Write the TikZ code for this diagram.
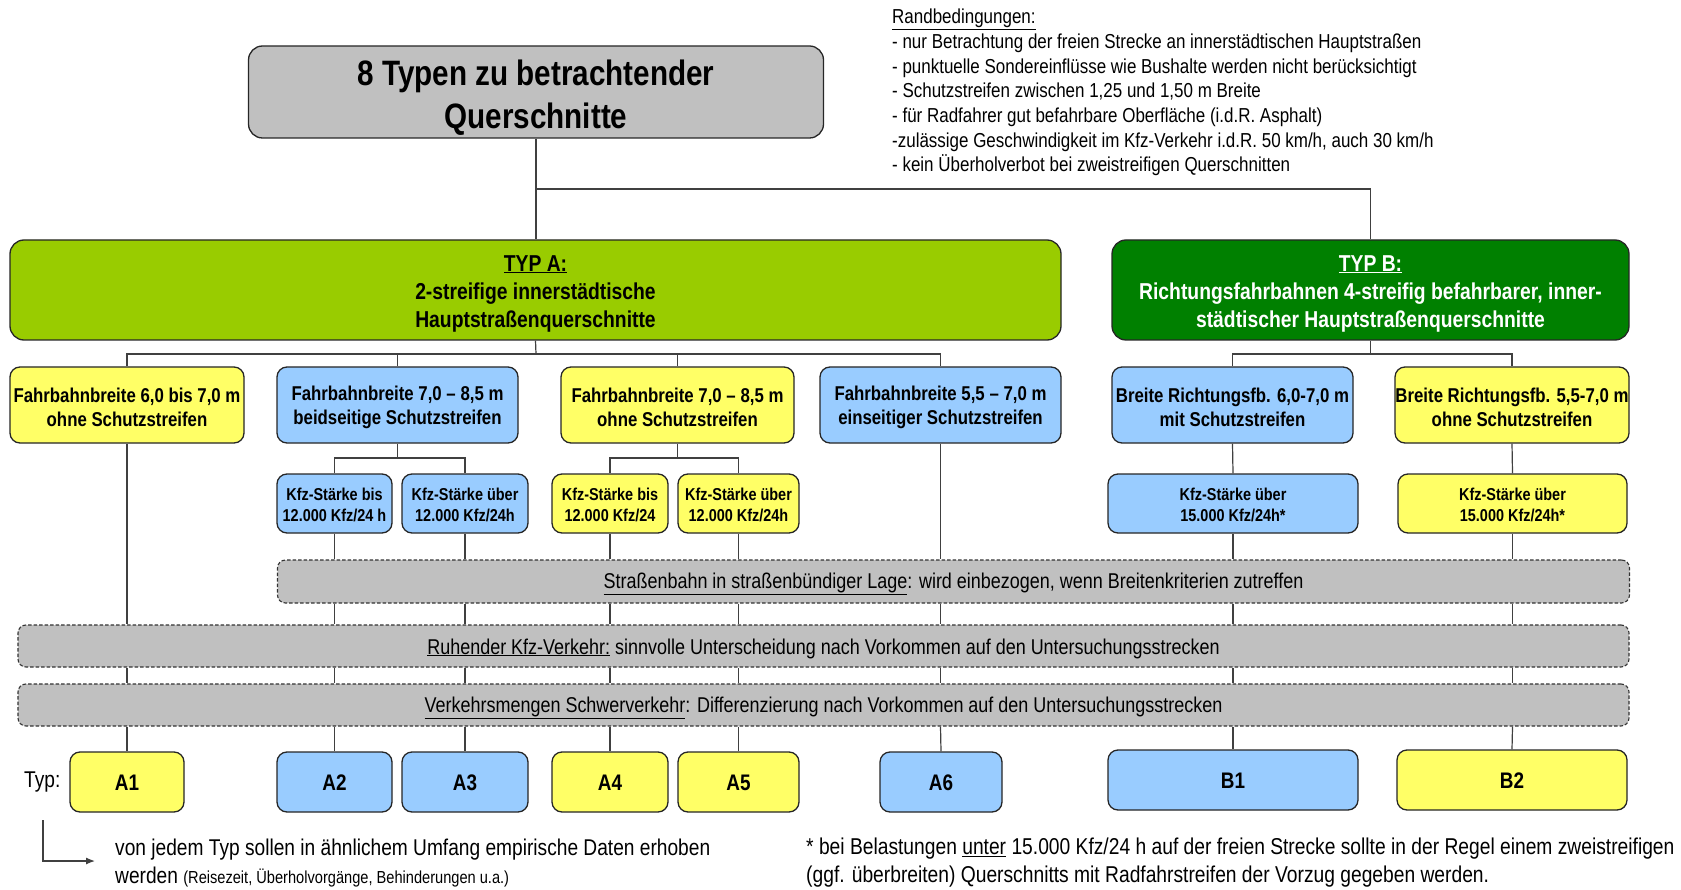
\documentclass[tikz,border=0pt]{standalone}
\usepackage{fontspec}
\setmainfont{Liberation Sans}[FakeStretch=0.84]
\usetikzlibrary{arrows.meta}
\definecolor{cyel}{HTML}{FFFF66}
\definecolor{cblu}{HTML}{99CCFF}
\definecolor{cgrn}{HTML}{99CC00}
\definecolor{cdgrn}{HTML}{008000}
\definecolor{cgry}{HTML}{C0C0C0}
\newcommand\myfs[2]{\fontsize{#1}{#2}\selectfont}
\newcommand\myul[1]{\underline{#1}}
\begin{document}
\begin{tikzpicture}[x=1pt,y=-1pt,
  box/.style={draw=black!85, line width=1.3pt, rounded corners=10pt, inner sep=0pt},
  bigbox/.style={box, rounded corners=14pt},
  yel/.style={fill=cyel}, blu/.style={fill=cblu},
  grp/.style={box, minimum height=76pt},
  kfz/.style={box, minimum height=59pt},
  typ/.style={box, minimum height=60pt},
  bar/.style={draw=black!80, fill=cgry, rounded corners=8pt, line width=1.1pt, dash pattern=on 3.5pt off 2pt, inner sep=0pt},
  tx/.style={inner sep=0pt, align=center},
  titlef/.style={tx, font=\bfseries\myfs{35.3}{43}},
  typf/.style={tx, font=\bfseries\myfs{23}{28}},
  grpf/.style={tx, font=\bfseries\myfs{20}{24.7}},
  kfzf/.style={tx, font=\bfseries\myfs{17.2}{21}},
  typtf/.style={tx, font=\bfseries\myfs{22.5}{26}},
  barf/.style={tx, font=\myfs{21.4}{26}},
  conn/.style={draw=black!75, line width=1.2pt},
  txt/.style={inner sep=0pt, align=left}]
\useasboundingbox (0,0) rectangle (1681,890);

% title and main types
\node[bigbox, fill=cgry, minimum width=575pt, minimum height=92pt] (title) at (536,92) {};
\node[titlef] (titlet) at ([yshift=-5.5pt]title.center) {8 Typen zu betrachtender\\Querschnitte};
\node[bigbox, fill=cgrn, minimum width=1051pt, minimum height=100pt] (typA) at (535.5,290) {};
\node[typf] (typAt) at ([yshift=-3.5pt]typA.center) {\myul{TYP A:}\\2-streifige innerstädtische\\Hauptstraßenquerschnitte};
\node[bigbox, fill=cdgrn, minimum width=517pt, minimum height=100pt] (typB) at (1370.5,290) {};
\node[typf, text=white] (typBt) at ([yshift=-3.5pt]typB.center) {\myul{TYP B:}\\Richtungsfahrbahnen 4-streifig befahrbarer, inner-\\städtischer Hauptstraßenquerschnitte};

% Randbedingungen
\node[txt, anchor=west, font=\myfs{20.2}{24.7}] (rand) at (892,92.5) {\myul{Randbedingungen:}\\
- nur Betrachtung der freien Strecke an innerstädtischen Hauptstraßen\\
- punktuelle Sondereinflüsse wie Bushalte werden nicht berücksichtigt\\
- Schutzstreifen zwischen 1,25 und 1,50 m Breite\\
- für Radfahrer gut befahrbare Oberfläche (i.d.R. Asphalt)\\
-zulässige Geschwindigkeit im Kfz-Verkehr i.d.R. 50 km/h, auch 30 km/h\\
- kein Überholverbot bei zweistreifigen Querschnitten};

% row 2
\node[grp, yel, minimum width=234pt] (g1) at (127,405) {};
\node[grpf] (g1t) at ([yshift=-2.5pt]g1.center) {Fahrbahnbreite 6,0 bis 7,0 m\\ohne Schutzstreifen};
\node[grp, blu, minimum width=241pt] (g2) at (397.5,405) {};
\node[grpf] (g2t) at ([yshift=-2.5pt]g2.center) {Fahrbahnbreite 7,0 – 8,5 m\\beidseitige Schutzstreifen};
\node[grp, yel, minimum width=233pt] (g3) at (677.5,405) {};
\node[grpf] (g3t) at ([yshift=-2.5pt]g3.center) {Fahrbahnbreite 7,0 – 8,5 m\\ohne Schutzstreifen};
\node[grp, blu, minimum width=241pt] (g4) at (940.5,405) {};
\node[grpf] (g4t) at ([yshift=-2.5pt]g4.center) {Fahrbahnbreite 5,5 – 7,0 m\\einseitiger Schutzstreifen};
\node[grp, blu, minimum width=241pt] (g5) at (1232.5,405) {};
\node[grpf] (g5t) at ([yshift=-2.5pt]g5.center) {Breite Richtungsfb. 6,0-7,0 m\\mit Schutzstreifen};
\node[grp, yel, minimum width=234pt] (g6) at (1512,405) {};
\node[grpf] (g6t) at ([yshift=-2.5pt]g6.center) {Breite Richtungsfb. 5,5-7,0 m\\ohne Schutzstreifen};

% row 3
\node[kfz, blu, minimum width=115pt] (k1) at (334.5,503.5) {};
\node[kfzf] (k1t) at ([yshift=-1.5pt]k1.center) {Kfz-Stärke bis\\12.000 Kfz/24 h};
\node[kfz, blu, minimum width=126pt] (k2) at (465,503.5) {};
\node[kfzf] (k2t) at ([yshift=-1.5pt]k2.center) {Kfz-Stärke über\\12.000 Kfz/24h};
\node[kfz, yel, minimum width=116pt] (k3) at (610,503.5) {};
\node[kfzf] (k3t) at ([yshift=-1.5pt]k3.center) {Kfz-Stärke bis\\12.000 Kfz/24};
\node[kfz, yel, minimum width=121pt] (k4) at (738.5,503.5) {};
\node[kfzf] (k4t) at ([yshift=-1.5pt]k4.center) {Kfz-Stärke über\\12.000 Kfz/24h};
\node[kfz, blu, minimum width=250pt] (k5) at (1233,503.5) {};
\node[kfzf] (k5t) at ([yshift=-1.5pt]k5.center) {Kfz-Stärke über\\15.000 Kfz/24h*};
\node[kfz, yel, minimum width=229pt] (k6) at (1512.5,503.5) {};
\node[kfzf] (k6t) at ([yshift=-1.5pt]k6.center) {Kfz-Stärke über\\15.000 Kfz/24h*};

% bars
\node[bar, minimum width=1352pt, minimum height=43pt] (sb) at (953.5,581.5) {};
\node[barf] (sbt) at ([yshift=-2.5pt]sb.center) {\myul{Straßenbahn in straßenbündiger Lage}: wird einbezogen, wenn Breitenkriterien zutreffen};
\node[bar, minimum width=1611pt, minimum height=42pt] (rk) at (823.5,646) {};
\node[barf] (rkt) at ([yshift=-2.5pt]rk.center) {\myul{Ruhender Kfz-Verkehr:} sinnvolle Unterscheidung nach Vorkommen auf den Untersuchungsstrecken};
\node[bar, minimum width=1611pt, minimum height=42pt] (vs) at (823.5,705) {};
\node[barf] (vst) at ([yshift=-2.5pt]vs.center) {\myul{Verkehrsmengen Schwerverkehr}: Differenzierung nach Vorkommen auf den Untersuchungsstrecken};

% bottom types
\node[typ, yel, minimum width=114pt] (a1) at (127,782) {};
\node[typtf] (a1t) at ([yshift=-1pt]a1.center) {A1};
\node[typ, blu, minimum width=115pt] (a2) at (334.5,782) {};
\node[typtf] (a2t) at ([yshift=-1pt]a2.center) {A2};
\node[typ, blu, minimum width=126pt] (a3) at (465,782) {};
\node[typtf] (a3t) at ([yshift=-1pt]a3.center) {A3};
\node[typ, yel, minimum width=116pt] (a4) at (610,782) {};
\node[typtf] (a4t) at ([yshift=-1pt]a4.center) {A4};
\node[typ, yel, minimum width=121pt] (a5) at (738.5,782) {};
\node[typtf] (a5t) at ([yshift=-1pt]a5.center) {A5};
\node[typ, blu, minimum width=122pt] (a6) at (941,782) {};
\node[typtf] (a6t) at ([yshift=-1pt]a6.center) {A6};
\node[typ, blu, minimum width=250pt] (b1) at (1233,780) {};
\node[typtf] (b1t) at ([yshift=-1pt]b1.center) {B1};
\node[typ, yel, minimum width=230pt] (b2) at (1512,780) {};
\node[typtf] (b2t) at ([yshift=-1pt]b2.center) {B2};

\node[txt, anchor=west, font=\myfs{22.8}{28}] (typlbl) at (24,782) {Typ:};

% notes
\node[txt, anchor=west, font=\myfs{22.8}{28}] (note1) at (115,863) {von jedem Typ sollen in ähnlichem Umfang empirische Daten erhoben\\werden {\myfs{17.4}{28}(Reisezeit, Überholvorgänge, Behinderungen u.a.)}};
\node[txt, anchor=west, font=\myfs{22.9}{28}] (note2) at (806,863) {* bei Belastungen \myul{unter} 15.000 Kfz/24 h auf der freien Strecke sollte in der Regel einem zweistreifigen\\(ggf. überbreiten) Querschnitts mit Radfahrstreifen der Vorzug gegeben werden.};

% connectors
\coordinate (jT) at (536,189);
\coordinate (jA) at (536,354);
\coordinate (jB) at (1370.5,354);
\coordinate (j2) at (397.5,458);
\coordinate (j3) at (677.5,458);
\draw[conn] (title.south) -- (title.south |- typA.north);
\draw[conn] (jT) -| (typB.north);
\draw[conn] (typA.south) -- (jA);
\draw[conn] (g1.north) |- (jA) -| (g4.north);
\draw[conn] (g2.north) -- (g2.north |- jA);
\draw[conn] (g3.north) -- (g3.north |- jA);
\draw[conn] (typB.south) -- (jB);
\draw[conn] (g5.north) |- (jB) -| (g6.north);
\draw[conn] (g2.south) -- (j2);
\draw[conn] (k1.north) |- (j2) -| (k2.north);
\draw[conn] (g3.south) -- (j3);
\draw[conn] (k3.north) |- (j3) -| (k4.north);
\draw[conn] (g5.south) -- (k5.north);
\draw[conn] (g6.south) -- (k6.north);
\draw[conn] (g1.south) -- (g1.south |- rk.north);
\draw[conn] (g1.south |- rk.south) -- (g1.south |- vs.north);
\draw[conn] (g1.south |- vs.south) -- (a1.north);
\foreach \t/\b in {k1/a2,k2/a3,k3/a4,k4/a5,g4/a6,k5/b1,k6/b2} {
  \draw[conn] (\t.south) -- (\t.south |- sb.north);
  \draw[conn] (\t.south |- sb.south) -- (\t.south |- rk.north);
  \draw[conn] (\t.south |- rk.south) -- (\t.south |- vs.north);
  \draw[conn] (\t.south |- vs.south) -- (\b.north);
}
\coordinate (ar1) at (43,820);
\coordinate (ar3) at (95,861);
\draw[conn, -{Latex[length=9pt,width=7pt]}] (ar1) |- (ar3);
\end{tikzpicture}
\end{document}
